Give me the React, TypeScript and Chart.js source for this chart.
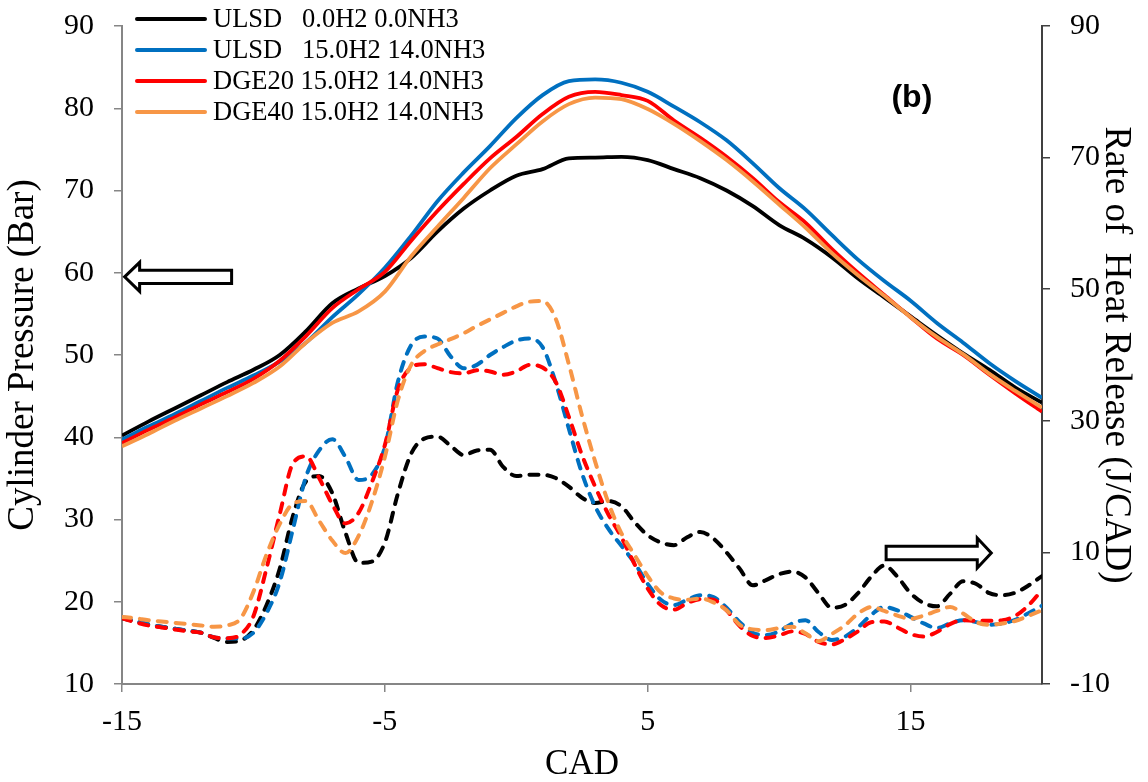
import React, { useEffect, useRef } from 'react';
import { Chart, registerables } from 'chart.js';

Chart.register(...registerables);

// Series labels and colours (same order for pressure and heat-release curves)
const seriesNames = [
  'ULSD   0.0H2 0.0NH3',
  'ULSD   15.0H2 14.0NH3',
  'DGE20 15.0H2 14.0NH3',
  'DGE40 15.0H2 14.0NH3',
];
const seriesColors = ['#000000', '#0070C0', '#FF0000', '#F79646'];

// Axis ticks
const cadTicks = [-15, -5, 5, 15];
const pressureTicks = [10, 20, 30, 40, 50, 60, 70, 80, 90];
const rohrTicks = [-10, 10, 30, 50, 70, 90];

// Crank angle grid for cylinder pressure (1 CAD)
const cadPressure = [
  -15, -14, -13, -12, -11, -10, -9, -8, -7, -6, -5, -4, -3, -2, -1, 0, 1, 2,
  3, 4, 5, 6, 7, 8, 9, 10, 11, 12, 13, 14, 15, 16, 17, 18, 19, 20,
];

// Cylinder pressure (Bar)
const pressureUlsd = [
  40.2, 41.9, 43.5, 45.1, 46.7, 48.2, 50.0, 52.9, 56.3, 58.1, 59.6,
  61.8, 65.0, 67.8, 70.0, 71.8, 72.6, 73.9, 74.0, 74.1,
  73.7, 72.6, 71.5, 70.0, 68.1, 65.8, 64.1, 61.9, 59.3, 57.0, 54.7, 52.4, 50.2, 48.2, 46.0, 44.2,
];
const pressureUlsdH2 = [
  39.7, 41.3, 42.8, 44.4, 46.0, 47.5, 49.2, 51.5, 54.6, 57.4, 60.6,
  64.5, 68.7, 72.2, 75.4, 78.8, 81.6, 83.3, 83.5, 83.1,
  82.0, 80.2, 78.3, 76.1, 73.3, 70.3, 67.7, 64.6, 61.6, 59.0, 56.6, 53.9, 51.5, 49.0, 46.8, 44.8,
];
const pressureDge20 = [
  39.3, 40.9, 42.4, 44.0, 45.5, 47.1, 49.3, 52.3, 55.7, 58.0, 60.1,
  63.9, 67.5, 70.8, 73.9, 76.5, 79.3, 81.4, 82.0, 81.6,
  80.9, 78.5, 76.4, 74.1, 71.5, 68.6, 66.1, 62.9, 60.0, 57.3, 54.6, 52.0, 50.0, 47.6, 45.3, 43.1,
];
const pressureDge40 = [
  38.9, 40.4, 42.0, 43.5, 45.0, 46.6, 48.6, 51.5, 53.9, 55.3, 57.7,
  62.0, 65.6, 69.1, 72.7, 75.6, 78.4, 80.5, 81.3, 81.1,
  79.9, 78.1, 76.0, 73.7, 71.1, 68.3, 65.5, 62.4, 59.7, 57.2, 54.6, 52.2, 50.1, 47.7, 45.6, 43.6,
];

// Crank angle grid for rate of heat release (0.5 CAD)
const cadRohr = [
  -15, -14.5, -14, -13.5, -13, -12.5, -12, -11.5, -11, -10.5, -10,
  -9.5, -9, -8.5, -8, -7.5, -7, -6.5, -6, -5.5, -5,
  -4.5, -4, -3.5, -3, -2.5, -2, -1.5, -1, -0.5, 0,
  0.5, 1, 1.5, 2, 2.5, 3, 3.5, 4, 4.5, 5,
  5.5, 6, 6.5, 7, 7.5, 8, 8.5, 9, 9.5, 10,
  10.5, 11, 11.5, 12, 12.5, 13, 13.5, 14, 14.5, 15,
  15.5, 16, 16.5, 17, 17.5, 18, 18.5, 19, 19.5, 20,
];

// Rate of heat release (J/CAD)
const rohrUlsd = [
  0.0, -0.5, -1.0, -1.3, -1.6, -1.9, -2.2, -3.0, -3.6, -3.4, -1.8,
  2.0, 7.5, 15.5, 20.8, 21.6, 19.0, 13.0, 8.4, 8.6, 11.5,
  19.0, 25.0, 27.3, 27.6, 26.2, 24.8, 25.5, 25.6, 23.0, 21.6,
  21.8, 21.8, 21.3, 20.0, 18.3, 17.5, 17.8, 17.0, 14.6, 12.6,
  11.5, 11.1, 12.3, 13.1, 12.1, 10.0, 7.5, 5.0, 5.8, 6.7,
  7.1, 6.2, 3.8, 1.6, 2.0, 3.8, 6.3, 8.0, 6.3, 3.8,
  2.3, 1.8, 3.7, 5.6, 5.2, 3.8, 3.5, 3.9, 5.0, 6.4,
];
const rohrUlsdH2 = [
  0.2, -0.4, -0.9, -1.3, -1.6, -1.9, -2.2, -2.9, -3.1, -3.1, -2.2,
  0.8, 5.5, 13.5, 21.5, 25.5, 27.2, 24.5, 21.0, 21.8, 26.0,
  36.0, 41.5, 42.8, 42.5, 39.8, 38.0, 38.5, 40.0, 41.2, 42.2,
  42.5, 41.2, 35.8, 28.8, 22.0, 17.0, 13.6, 11.0, 8.4, 5.2,
  2.8, 2.0, 2.8, 3.5, 3.2, 1.6, -0.6, -2.2, -2.55, -2.0,
  -0.8, -0.3, -2.1, -3.3, -2.8, -1.4, 0.5, 1.7, 1.2, 0.2,
  -0.8, -1.5, -0.8, -0.3, -0.6, -1.0, -0.8, -0.2, 0.8, 1.9,
];
const rohrDge20 = [
  0.0, -0.6, -1.1, -1.4, -1.7, -2.0, -2.2, -2.9, -3.05, -2.5, 0.3,
  7.6, 15.8, 23.5, 24.6, 21.3, 17.3, 14.4, 16.0, 20.6, 26.3,
  34.8, 38.1, 38.6, 38.0, 37.4, 37.2, 37.7, 37.5, 37.0, 37.5,
  38.5, 38.1, 35.9, 30.6, 24.8, 20.0, 15.8, 12.3, 8.2, 4.5,
  2.0, 1.3, 2.3, 2.9, 2.8, 1.2, -1.2, -2.7, -3.0, -2.6,
  -2.0, -2.4, -3.6, -4.0, -3.2, -2.0, -0.6, -0.5, -1.4, -2.4,
  -2.8, -2.1, -0.9, -0.3, -0.4, -0.4, -0.3, 0.4, 2.0, 4.3,
];
const rohrDge40 = [
  0.2, 0.0, -0.3, -0.5, -0.7, -0.9, -1.1, -1.3, -1.1, -0.1, 4.0,
  9.7, 14.3, 17.4, 17.8, 14.8, 11.8, 9.9, 12.5, 17.6, 24.5,
  33.2, 38.5, 40.6, 41.6, 42.4, 43.3, 44.4, 45.4, 46.4, 47.4,
  48.1, 48.2, 45.5, 38.6, 30.8, 23.8, 17.6, 12.9, 9.6, 6.4,
  3.9, 3.0, 2.8, 3.0, 2.4, 1.2, -1.0, -1.7, -1.8, -1.5,
  -1.3, -2.3, -3.5, -2.4, -1.1, 0.7, 1.7, 1.1, 0.4, -0.1,
  0.4, 1.1, 1.7, 0.7, -0.6, -1.0, -0.8, -0.4, 0.4, 1.2,
];

const pressureSeries = [pressureUlsd, pressureUlsdH2, pressureDge20, pressureDge40];
const rohrSeries = [rohrUlsd, rohrUlsdH2, rohrDge20, rohrDge40];

const SERIF = "'Liberation Serif', 'Times New Roman', serif";

// Outlined block arrow pointing from tailX towards tipX
function drawBlockArrow(
  ctx: CanvasRenderingContext2D,
  tailX: number,
  tipX: number,
  cy: number,
  shaftHalf: number,
  headHalf: number,
  headLen: number
) {
  const dir = tipX > tailX ? 1 : -1;
  const baseX = tipX - dir * headLen;
  ctx.save();
  ctx.beginPath();
  ctx.moveTo(tailX, cy - shaftHalf);
  ctx.lineTo(baseX, cy - shaftHalf);
  ctx.lineTo(baseX, cy - headHalf);
  ctx.lineTo(tipX, cy);
  ctx.lineTo(baseX, cy + headHalf);
  ctx.lineTo(baseX, cy + shaftHalf);
  ctx.lineTo(tailX, cy + shaftHalf);
  ctx.closePath();
  ctx.fillStyle = '#ffffff';
  ctx.fill();
  ctx.lineWidth = 3;
  ctx.lineJoin = 'miter';
  ctx.strokeStyle = '#000000';
  ctx.stroke();
  ctx.restore();
}

const decorations = {
  id: 'decorations',
  afterDatasetsDraw(chart: any) {
    const { ctx } = chart;
    const x = chart.scales.x;
    const y = chart.scales.y;
    const y1 = chart.scales.y1;

    // Arrows pointing to the axis each curve family belongs to
    drawBlockArrow(ctx, x.getPixelForValue(-10.83), x.getPixelForValue(-14.9), y.getPixelForValue(59.5), 6.7, 14.5, 15);
    drawBlockArrow(ctx, x.getPixelForValue(14.07), x.getPixelForValue(18.07), y1.getPixelForValue(9.9), 6.7, 15, 14);

    // Panel tag
    ctx.save();
    ctx.font = "bold 32px 'Liberation Sans', Arial, sans-serif";
    ctx.fillStyle = '#000';
    ctx.textAlign = 'center';
    ctx.textBaseline = 'middle';
    ctx.fillText('(b)', x.getPixelForValue(15.05), y.getPixelForValue(81.2));
    ctx.restore();

    // Legend
    ctx.save();
    ctx.font = `26.5px ${SERIF}`;
    ctx.textBaseline = 'middle';
    ctx.textAlign = 'left';
    seriesNames.forEach((name, i) => {
      const rowY = 19 + i * 31;
      ctx.beginPath();
      ctx.moveTo(137, rowY);
      ctx.lineTo(205, rowY);
      ctx.lineWidth = 4;
      ctx.lineCap = 'round';
      ctx.strokeStyle = seriesColors[i];
      ctx.stroke();
      ctx.fillStyle = '#000';
      ctx.fillText(name, 213, rowY + 1);
    });
    ctx.restore();
  },
};

// Keep the plot box fixed: no extra room reserved for overhanging tick labels
const fixVerticalPadding = (width: number) => (s: any) => {
  s.width = width;
  s.paddingTop = 0;
  s.paddingBottom = 0;
};

export default function App() {
  const canvasRef = useRef<HTMLCanvasElement | null>(null);

  useEffect(() => {
    if (!canvasRef.current) return;

    const datasets: any[] = [];
    pressureSeries.forEach((vals, i) => {
      datasets.push({
        label: seriesNames[i],
        data: cadPressure.map((c, j) => ({ x: c, y: vals[j] })),
        yAxisID: 'y',
        borderColor: seriesColors[i],
        borderWidth: 3.8,
        pointRadius: 0,
        fill: false,
        cubicInterpolationMode: 'monotone',
        order: 8 - i,
      });
    });
    rohrSeries.forEach((vals, i) => {
      datasets.push({
        label: seriesNames[i] + ' ROHR',
        data: cadRohr.map((c, j) => ({ x: c, y: vals[j] })),
        yAxisID: 'y1',
        borderColor: seriesColors[i],
        borderWidth: 4,
        borderDash: [9, 9],
        borderCapStyle: 'round',
        pointRadius: 0,
        fill: false,
        cubicInterpolationMode: 'monotone',
        order: 4 - i,
      });
    });

    const tickFont = { family: SERIF, size: 30 };
    const titleFont = { family: SERIF, size: 37, lineHeight: 1 };

    const chart = new Chart(canvasRef.current, {
      type: 'line',
      data: { datasets },
      plugins: [decorations],
      options: {
        animation: false,
        responsive: false,
        devicePixelRatio: 1,
        layout: { padding: { top: 26, left: 0, right: 0, bottom: 0 } },
        plugins: {
          legend: { display: false },
          tooltip: { enabled: false },
        },
        scales: {
          x: {
            type: 'linear',
            position: 'bottom',
            min: -15,
            max: 20,
            afterBuildTicks: (s: any) => {
              s.ticks = cadTicks.map((v) => ({ value: v }));
            },
            afterFit: (s: any) => {
              s.height = 98;
              s.paddingLeft = 0;
              s.paddingRight = 0;
            },
            ticks: { font: tickFont, color: '#000', padding: 12, maxRotation: 0 },
            grid: { drawOnChartArea: false, drawTicks: true, tickLength: 8, color: '#868686', lineWidth: 1.5 },
            border: { color: '#868686', width: 2 },
            title: {
              display: true,
              text: 'CAD',
              color: '#000',
              font: { family: SERIF, size: 35, lineHeight: 1 },
              padding: { top: 0, bottom: 0 },
            },
          },
          y: {
            type: 'linear',
            position: 'left',
            min: 10,
            max: 90,
            afterBuildTicks: (s: any) => {
              s.ticks = pressureTicks.map((v) => ({ value: v }));
            },
            afterFit: fixVerticalPadding(122),
            ticks: { font: tickFont, color: '#000', padding: 20 },
            grid: { drawOnChartArea: false, drawTicks: true, tickLength: 8, color: '#868686', lineWidth: 1.5 },
            border: { color: '#868686', width: 2 },
            title: {
              display: true,
              text: 'Cylinder Pressure (Bar)',
              color: '#000',
              font: titleFont,
              padding: { top: 4.5, bottom: 0 },
            },
          },
          y1: {
            type: 'linear',
            position: 'right',
            min: -10,
            max: 90,
            afterBuildTicks: (s: any) => {
              s.ticks = rohrTicks.map((v) => ({ value: v }));
            },
            afterFit: fixVerticalPadding(106),
            ticks: { font: tickFont, color: '#000', padding: 20 },
            grid: { drawOnChartArea: false, drawTicks: true, tickLength: 8, color: '#404040', lineWidth: 1.5 },
            border: { color: '#404040', width: 2 },
            title: {
              display: true,
              text: 'Rate of  Heat Release (J/CAD)',
              color: '#000',
              font: titleFont,
              padding: { top: 14, bottom: 0 },
            },
          },
        },
      } as any,
    });

    return () => chart.destroy();
  }, []);

  return (
    <div style={{ position: 'absolute', left: 0, top: 0, width: 1148, height: 782, background: '#fff' }}>
      <canvas ref={canvasRef} width={1148} height={782} />
    </div>
  );
}
